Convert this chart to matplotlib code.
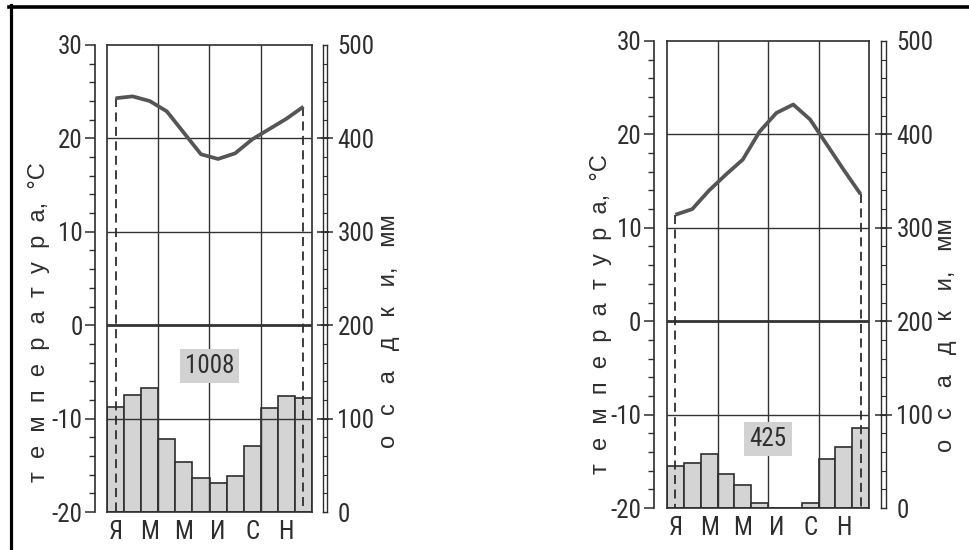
import matplotlib
matplotlib.use('Agg')
import matplotlib.pyplot as plt
import numpy as np
from matplotlib.lines import Line2D

plt.rcParams['axes.unicode_minus'] = False

# ---------------- data ----------------
month_labels = ['Я', 'М', 'М', 'И', 'С', 'Н']
temp_left = [24.3, 24.5, 24.0, 22.9, 20.6, 18.3, 17.8, 18.4, 19.9, 21.0, 22.1, 23.4]
precip_left = [112, 125, 133, 78, 54, 36, 31, 39, 71, 111, 124, 122]
total_left = '1008'
temp_right = [11.4, 12.0, 14.0, 15.7, 17.3, 20.3, 22.3, 23.2, 21.6, 18.9, 16.2, 13.6]
precip_right = [45, 48, 58, 36, 25, 5, 0, 0, 5, 52, 65, 86]
total_right = '425'
temp_ticks = [-20, -10, 0, 10, 20, 30]
precip_ticks = [0, 100, 200, 300, 400, 500]
temp_title = 'т  е  м  п  е  р  а  т  у  р  а,  °С'
precip_title = 'о   с   а   д   к   и,   мм'

# ---------------- style ----------------
W, H = 969, 550
TICKFONT = ['Roboto Condensed', 'PT Sans Narrow', 'DejaVu Sans']
TITLEFONT = ['Liberation Sans', 'DejaVu Sans']
BAR = '#d4d4d4'
EDGE = '#2e2e2e'
GRID = '#333333'
LINE = '#555555'
TXT = '#2e2e2e'

fig = plt.figure(figsize=(W / 100, H / 100), dpi=100)
fig.patch.set_facecolor('white')


def px_rect(x0, y0, x1, y1):
    return [x0 / W, 1 - y1 / H, (x1 - x0) / W, (y1 - y0) / H]


def draw(box, axis_x, bar_x, temps, precs, total, total_xy,
         tlab_xy, plab_xy):
    x0, y0, x1, y1 = box
    xc = np.arange(12) + 0.5

    ax_p = fig.add_axes(px_rect(x0, y0, x1, y1))
    ax_p.bar(xc, precs, width=1.0, color=BAR, edgecolor=EDGE,
             linewidth=1.2, zorder=2)
    ax_p.set_xlim(0, 12)
    ax_p.set_ylim(0, 500)
    ax_p.set_yticks([])
    ax_p.set_xticks(xc[::2], labels=month_labels)
    ax_p.tick_params(axis='x', length=0, pad=6, labelsize=18,
                     labelcolor=TXT)
    for lab in ax_p.get_xticklabels():
        lab.set_family(TICKFONT)
    for s in ax_p.spines.values():
        s.set_linewidth(1.2)
        s.set_color(EDGE)

    ax_t = ax_p.twinx()
    ax_t.set_ylim(-20, 30)
    ax_t.set_yticks([])
    for s in ax_t.spines.values():
        s.set_visible(False)
    for v in (-10, 10, 20):
        ax_t.axhline(v, color=GRID, lw=1.0, zorder=3)
    ax_t.axhline(0, color=GRID, lw=2.0, zorder=3)
    for v in (3, 6, 9):
        ax_t.axvline(v, color=GRID, lw=1.0, zorder=3)
    ax_t.plot(xc, temps, color=LINE, lw=2.7, zorder=5,
              solid_joinstyle='round', solid_capstyle='butt')
    ax_t.plot([xc[0], xc[0]], [temps[0], -20], ls=(0, (5, 3)),
              color=EDGE, lw=1.3, zorder=4)
    ax_t.plot([xc[-1], xc[-1]], [temps[-1], -20], ls=(0, (5, 3)),
              color=EDGE, lw=1.3, zorder=4)
    ax_t.text(total_xy[0], total_xy[1], total, ha='center', va='center',
              fontsize=18, color=TXT, family=TICKFONT, zorder=6,
              bbox=dict(boxstyle='square,pad=0.2', fc='#d2d2d2', ec='none'))

    # left temperature scale
    axL = fig.add_axes(px_rect(axis_x, y0, axis_x + 1, y1))
    axL.patch.set_visible(False)
    axL.set_ylim(-20, 30)
    axL.set_xticks([])
    for k in ('top', 'right', 'bottom'):
        axL.spines[k].set_visible(False)
    axL.spines['left'].set_linewidth(1.2)
    axL.spines['left'].set_color(EDGE)
    axL.set_yticks(temp_ticks, labels=[str(t) for t in temp_ticks])
    axL.set_yticks(np.arange(-20, 31, 2), minor=True)
    axL.tick_params(axis='y', which='major', length=7, width=1.1, pad=2,
                    labelsize=18, labelcolor=TXT, color=EDGE)
    axL.tick_params(axis='y', which='minor', length=4, width=1.0,
                    color=EDGE)
    for lab in axL.get_yticklabels():
        lab.set_family(TICKFONT)

    # right precipitation scale (narrow ladder bar)
    bx0, bx1 = bar_x
    axR = fig.add_axes(px_rect(bx0, y0, bx1, y1))
    axR.patch.set_visible(False)
    axR.set_ylim(0, 500)
    axR.set_xlim(0, 1)
    axR.set_xticks([])
    for s in axR.spines.values():
        s.set_linewidth(1.0)
        s.set_color(EDGE)
    axR.set_yticks(precip_ticks, labels=[str(p) for p in precip_ticks])
    axR.tick_params(axis='y', direction='inout', length=9, width=1.1,
                    left=True, right=True, labelleft=False,
                    labelright=True, pad=3, labelsize=18,
                    labelcolor=TXT, color=EDGE)
    ticks = axR.yaxis.get_major_ticks()
    for t in (ticks[0], ticks[-1]):
        t.tick1line.set_visible(False)
        t.tick2line.set_visible(False)
    for lab in axR.get_yticklabels():
        lab.set_family(TICKFONT)
    axR.hlines(np.arange(20, 500, 20), 0, 1, color=EDGE, lw=0.8)

    fig.text(tlab_xy[0] / W, 1 - tlab_xy[1] / H, temp_title, rotation=90,
             ha='center', va='center', fontsize=17, color=TXT,
             family=TITLEFONT)
    fig.text(plab_xy[0] / W, 1 - plab_xy[1] / H, precip_title, rotation=90,
             ha='center', va='center', fontsize=17, color=TXT,
             family=TITLEFONT)


draw((107, 45, 312, 512), 95, (322.5, 327), temp_left, precip_left,
     total_left, (6.0, -4.4), (39, 322), (389, 331))
draw((667, 41, 869, 508), 654, (881, 886), temp_right, precip_right,
     total_right, (6.0, -12.6), (601, 314), (946, 335))

# scan frame
fig.add_artist(Line2D([10.5 / W, 10.5 / W], [0, 1 - 5 / H], color='black',
                      lw=2.3, transform=fig.transFigure))
fig.add_artist(Line2D([9 / W, 1], [1 - 6.5 / H, 1 - 6.5 / H], color='black',
                      lw=2.6, transform=fig.transFigure))

fig.savefig('out.png', dpi=100, facecolor='white')
